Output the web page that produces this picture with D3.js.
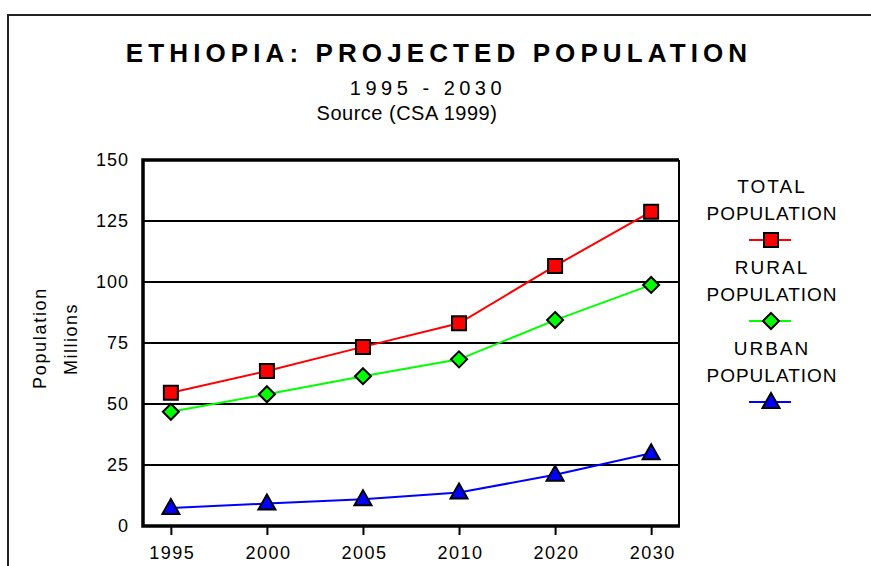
<!DOCTYPE html>
<head>
    <meta charset="utf-8">
    <script src="https://d3js.org/d3.v7.min.js"></script>
    <style>
        body { margin:0; background:#fff; }
        text { font-family: Arial, "Liberation Sans", sans-serif; fill:#000; }
    </style>
</head>
<body>
<div id="chart"></div>
<script>

    // ******************** Data ************************
    var years = ["1995", "2000", "2005", "2010", "2020", "2030"];
    var totalPop = [54.6, 63.5, 73.4, 83.1, 106.6, 128.8];
    var ruralPop = [46.8, 54.0, 61.4, 68.3, 84.4, 98.8];
    var urbanPop = [7.4, 9.2, 11.0, 13.7, 21.0, 29.8];
    var yTicks = [0, 25, 50, 75, 100, 125, 150];
    var seriesNames = [["TOTAL", "POPULATION"], ["RURAL", "POPULATION"], ["URBAN", "POPULATION"]];

    var series = [
        {name: seriesNames[0], values: totalPop, color: "#ff0000", shape: "square"},
        {name: seriesNames[1], values: ruralPop, color: "#00ff00", shape: "diamond"},
        {name: seriesNames[2], values: urbanPop, color: "#0000ff", shape: "triangle"}
    ];

    var W = 871, H = 566;
    var plot = {left: 143, top: 160, right: 679, bottom: 526};

    var svg = d3.select("#chart").append("svg")
        .attr("width", W)
        .attr("height", H);

    // outer frame (runs off the right and bottom edges)
    svg.append("rect")
        .attr("x", 8).attr("y", 15)
        .attr("width", W).attr("height", H)
        .attr("fill", "none")
        .attr("stroke", "#222")
        .attr("stroke-width", 2);

    // ******************** Scales ************************
    var x = d3.scalePoint().domain(years)
        .range([plot.left, plot.right])
        .padding(0.29);
    var y = d3.scaleLinear().domain([0, 150]).range([plot.bottom, plot.top]);

    // titles
    svg.append("text")
        .attr("x", 439).attr("y", 62)
        .attr("text-anchor", "middle")
        .style("font-size", "26px").style("font-weight", "bold")
        .style("letter-spacing", "5.1px")
        .text("ETHIOPIA: PROJECTED POPULATION");
    svg.append("text")
        .attr("x", 428).attr("y", 95)
        .attr("text-anchor", "middle")
        .style("font-size", "20px").style("letter-spacing", "4.5px")
        .text("1995 - 2030");
    svg.append("text")
        .attr("x", 407).attr("y", 120)
        .attr("text-anchor", "middle")
        .style("font-size", "20px").style("letter-spacing", "0.5px")
        .text("Source (CSA 1999)");

    // gridlines
    svg.append("g")
        .selectAll("line")
        .data(yTicks.filter(function (d) { return d > 0 && d < 150; }))
        .enter().append("line")
        .attr("x1", plot.left).attr("x2", plot.right)
        .attr("y1", y).attr("y2", y)
        .attr("stroke", "#000").attr("stroke-width", 2);

    // y axis (labels only, no outward ticks)
    var yAxis = svg.append("g")
        .attr("transform", "translate(" + plot.left + ",0)")
        .call(d3.axisLeft(y).tickValues(yTicks).tickSize(0).tickPadding(14));
    yAxis.select(".domain").remove();
    yAxis.selectAll("text")
        .style("font-size", "18px")
        .style("letter-spacing", "1px")
        .style("font-family", "Arial, 'Liberation Sans', sans-serif");

    // x axis
    var xAxis = svg.append("g")
        .attr("transform", "translate(0," + plot.bottom + ")")
        .call(d3.axisBottom(x).tickSize(9).tickPadding(11).tickSizeOuter(0));
    xAxis.select(".domain").remove();
    xAxis.selectAll("line").attr("stroke", "#000").attr("stroke-width", 2);
    xAxis.selectAll("text")
        .attr("dx", "1px")
        .style("font-size", "18px")
        .style("letter-spacing", "1.5px")
        .style("font-family", "Arial, 'Liberation Sans', sans-serif");

    // plot frame: thick left / top / bottom, thinner right
    svg.append("line")
        .attr("x1", plot.right).attr("x2", plot.right)
        .attr("y1", plot.top).attr("y2", plot.bottom)
        .attr("stroke", "#000").attr("stroke-width", 2);
    svg.append("path")
        .attr("d", "M" + plot.right + "," + plot.top + "H" + plot.left + "V" + plot.bottom + "H" + (plot.right + 1))
        .attr("fill", "none")
        .attr("stroke", "#000").attr("stroke-width", 3.5);

    // axis title
    svg.append("text")
        .attr("transform", "translate(46,338) rotate(-90)")
        .attr("text-anchor", "middle")
        .style("font-size", "18px").style("letter-spacing", "1.7px")
        .text("Population");
    svg.append("text")
        .attr("transform", "translate(77,339) rotate(-90)")
        .attr("text-anchor", "middle")
        .style("font-size", "18px").style("letter-spacing", "1.5px")
        .text("Millions");

    // ******************** Markers ************************
    function markerPath(shape) {
        if (shape === "square") return "M-7,-7H7V7H-7Z";
        if (shape === "diamond") return "M0,-8L8,0L0,8L-8,0Z";
        return "M0,-9L8.5,6H-8.5Z";
    }

    var line = d3.line()
        .x(function (d, i) { return x(years[i]); })
        .y(function (d) { return y(d); });

    series.forEach(function (s) {
        svg.append("path")
            .attr("d", line(s.values))
            .attr("fill", "none")
            .attr("stroke", s.color)
            .attr("stroke-width", 2);
        svg.append("g").selectAll("path")
            .data(s.values)
            .enter().append("path")
            .attr("transform", function (d, i) { return "translate(" + x(years[i]) + "," + y(d) + ")"; })
            .attr("d", markerPath(s.shape))
            .attr("fill", s.color)
            .attr("stroke", "#000")
            .attr("stroke-width", 2)
            .attr("stroke-linejoin", "miter");
    });

    // ******************** Legend ************************
    var legend = svg.append("g").attr("transform", "translate(771,0)");
    series.forEach(function (s, i) {
        var top = 193 + i * 81;
        legend.append("text")
            .attr("x", 1)
            .attr("y", top).attr("text-anchor", "middle")
            .style("font-size", "19px").style("letter-spacing", "2px")
            .text(s.name[0]);
        legend.append("text")
            .attr("x", 1)
            .attr("y", top + 27).attr("text-anchor", "middle")
            .style("font-size", "19px").style("letter-spacing", "1px")
            .text(s.name[1]);
        legend.append("line")
            .attr("x1", -22).attr("x2", 20)
            .attr("y1", top + 47).attr("y2", top + 47)
            .attr("stroke", s.color).attr("stroke-width", 2);
        legend.append("path")
            .attr("transform", "translate(0," + (top + 47) + ")")
            .attr("d", markerPath(s.shape))
            .attr("fill", s.color)
            .attr("stroke", "#000")
            .attr("stroke-width", 2);
    });

</script>
</body>
